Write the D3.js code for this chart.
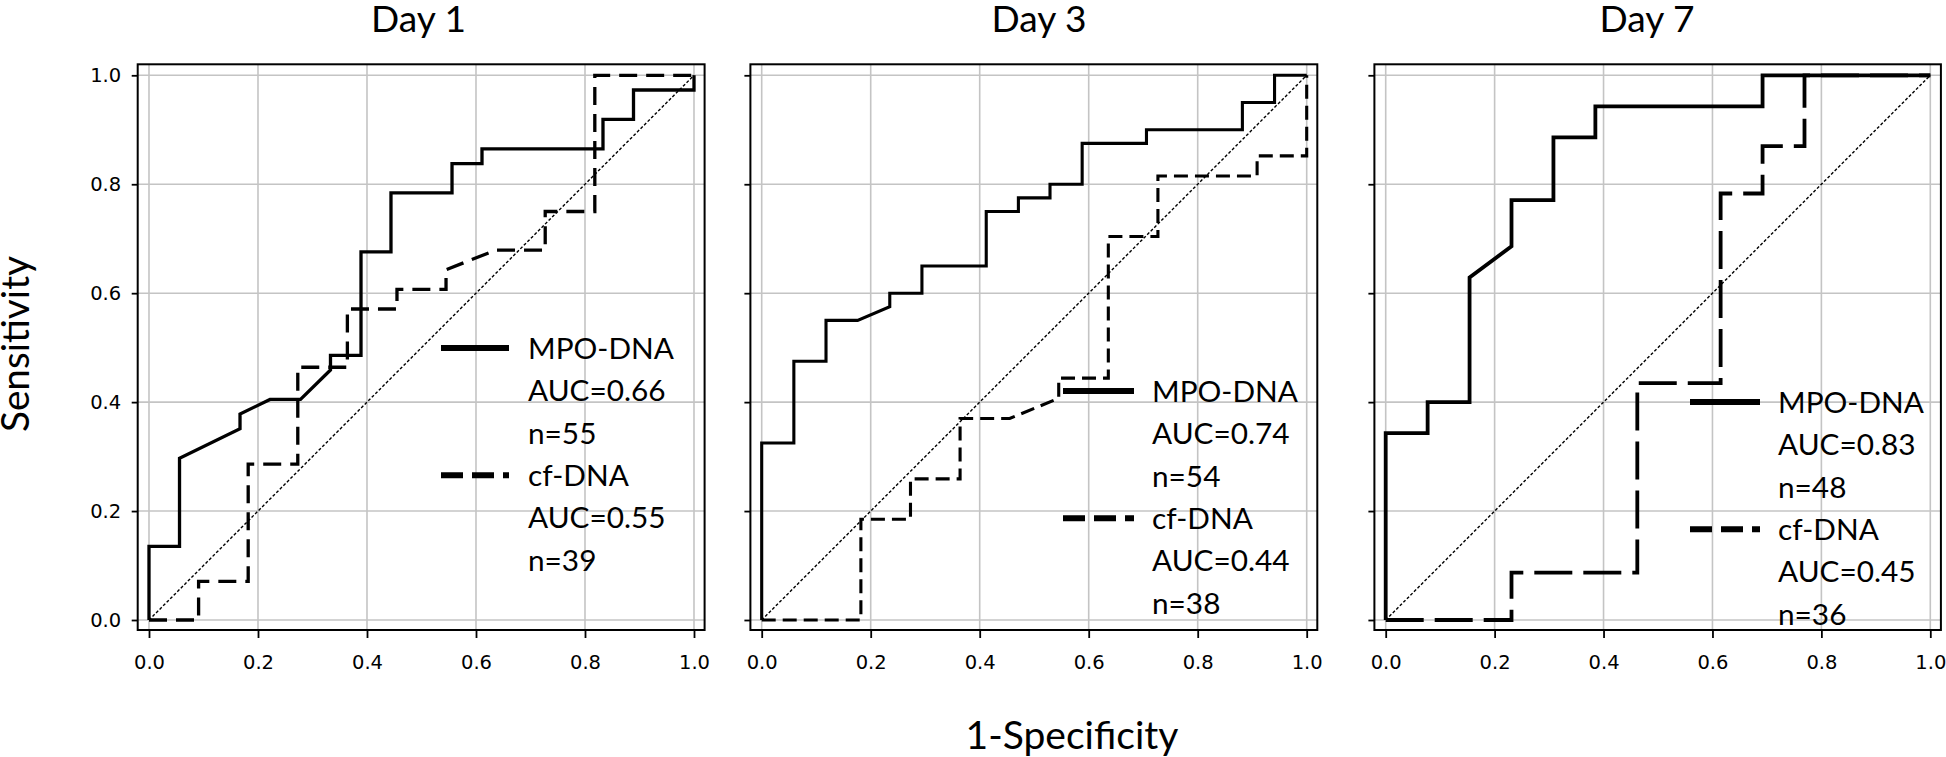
<!DOCTYPE html>
<html><head><meta charset="utf-8">
<script src="https://cdn.jsdelivr.net/npm/d3@7"></script>
<style>body{margin:0;background:#fff} svg{display:block}</style>
</head><body>
<svg id="chart" width="1946" height="757"></svg>
<script>
// ---------- data ----------
const days = ["Day 1", "Day 3", "Day 7"];
const tickValues = [0, 0.2, 0.4, 0.6, 0.8, 1.0];
const tickLabels = ["0.0", "0.2", "0.4", "0.6", "0.8", "1.0"];
const seriesNames = ["MPO-DNA", "cf-DNA"];
const mpoAUC = ["0.66", "0.74", "0.83"];
const cfAUC = ["0.55", "0.44", "0.45"];
const mpoN = [55, 54, 48];
const cfN = [39, 38, 36];
const xLabel = "1-Specificity";
const yLabel = "Sensitivity";

// ROC points [1-specificity, sensitivity]
const mpoDay1 = [[0,0],[0,0.135],[0.056,0.135],[0.056,0.297],[0.167,0.351],[0.167,0.378],[0.222,0.405],[0.278,0.405],[0.333,0.459],[0.333,0.486],[0.389,0.486],[0.389,0.676],[0.444,0.676],[0.444,0.784],[0.556,0.784],[0.556,0.838],[0.611,0.838],[0.611,0.865],[0.833,0.865],[0.833,0.919],[0.889,0.919],[0.889,0.973],[1,0.973],[1,1]];
const cfDay1 = [[0,0],[0.091,0],[0.091,0.071],[0.182,0.071],[0.182,0.286],[0.273,0.286],[0.273,0.464],[0.364,0.464],[0.364,0.571],[0.455,0.571],[0.455,0.607],[0.545,0.607],[0.545,0.643],[0.636,0.679],[0.727,0.679],[0.727,0.75],[0.818,0.75],[0.818,1],[1,1]];
const mpoDay3 = [[0,0],[0,0.325],[0.059,0.325],[0.059,0.475],[0.118,0.475],[0.118,0.55],[0.176,0.55],[0.235,0.575],[0.235,0.6],[0.294,0.6],[0.294,0.65],[0.412,0.65],[0.412,0.75],[0.471,0.75],[0.471,0.775],[0.529,0.775],[0.529,0.8],[0.588,0.8],[0.588,0.875],[0.706,0.875],[0.706,0.9],[0.882,0.9],[0.882,0.95],[0.941,0.95],[0.941,1],[1,1]];
const cfDay3 = [[0,0],[0.182,0],[0.182,0.185],[0.273,0.185],[0.273,0.259],[0.364,0.259],[0.364,0.37],[0.455,0.37],[0.545,0.407],[0.545,0.444],[0.636,0.444],[0.636,0.704],[0.727,0.704],[0.727,0.815],[0.909,0.815],[0.909,0.852],[1,0.852],[1,1]];
const mpoDay7 = [[0,0],[0,0.343],[0.077,0.343],[0.077,0.4],[0.154,0.4],[0.154,0.629],[0.231,0.686],[0.231,0.771],[0.308,0.771],[0.308,0.886],[0.385,0.886],[0.385,0.943],[0.692,0.943],[0.692,1],[1,1]];
const cfDay7 = [[0,0],[0.231,0],[0.231,0.087],[0.462,0.087],[0.462,0.435],[0.615,0.435],[0.615,0.783],[0.692,0.783],[0.692,0.87],[0.769,0.87],[0.769,1],[1,1]];
const chanceLine = [[0,0],[1,1]];

const mpoSeries = [mpoDay1, mpoDay3, mpoDay7];
const cfSeries = [cfDay1, cfDay3, cfDay7];

// ---------- layout ----------
const panels = [
  {x0:149,   x1:694,   titleX:418.5, legLine:[441,509],   legText:528,  legY:348, dash:"18,9",  lw:3.3},
  {x0:761.7, x1:1306.7,titleX:1039,  legLine:[1063,1134], legText:1152, legY:391, dash:"14,7",  lw:3.1},
  {x0:1385.7,x1:1930.3,titleX:1647,  legLine:[1690,1760], legText:1778, legY:402, dash:"38,11", lw:3.8}
];
const yTop = 75.3, yBot = 620;
const padL = 11.3, padR = 10.6, padT = 11, padB = 10;
const rowGap = 42.4;
const labelFont = "Lato, 'Open Sans', sans-serif";
const tickFont = "'DejaVu Sans', sans-serif";

const svg = d3.select("#chart");

// size a font so a sample string reaches a measured width
function fitSize(sample, target) {
  const t = svg.append("text").attr("font-family", labelFont).attr("font-size", 100).text(sample);
  const w = t.node().getComputedTextLength();
  t.remove();
  return 100 * target / w;
}
const titleSize = fitSize("Day 1", 95);
const legendSize = fitSize("MPO-DNA", 146);
const xLabSize = fitSize("1-Specificity", 213);
const yLabSize = fitSize("Sensitivity", 176);

const y = d3.scaleLinear().domain([0,1]).range([yBot, yTop]);

panels.forEach((p, i) => {
  const x = d3.scaleLinear().domain([0,1]).range([p.x0, p.x1]);
  const g = svg.append("g");
  const fx0 = x(0) - padL, fx1 = x(1) + padR, fy0 = y(1) - padT, fy1 = y(0) + padB;

  // grid
  g.append("g").selectAll("line").data(tickValues).join("line")
    .attr("x1", d => x(d)).attr("x2", d => x(d)).attr("y1", fy0).attr("y2", fy1)
    .attr("stroke", "#c4c4c4").attr("stroke-width", 1.6);
  g.append("g").selectAll("line").data(tickValues).join("line")
    .attr("y1", d => y(d)).attr("y2", d => y(d)).attr("x1", fx0).attr("x2", fx1)
    .attr("stroke", "#c4c4c4").attr("stroke-width", 1.6);

  // axes
  const xa = g.append("g").attr("transform", `translate(0,${fy1})`)
    .call(d3.axisBottom(x).tickValues(tickValues).tickFormat((d, k) => tickLabels[k])
      .tickSize(8).tickSizeOuter(0).tickPadding(17));
  xa.select(".domain").remove();
  xa.selectAll("line").attr("stroke", "#000").attr("stroke-width", 1.8);
  xa.selectAll("text").attr("font-family", tickFont).attr("font-size", 19.5).attr("fill", "#000");

  const ya = g.append("g").attr("transform", `translate(${fx0},0)`)
    .call(d3.axisLeft(y).tickValues(tickValues)
      .tickFormat((d, k) => i === 0 ? tickLabels[k] : "")
      .tickSize(6).tickSizeOuter(0).tickPadding(10.5));
  ya.select(".domain").remove();
  ya.selectAll("line").attr("stroke", "#000").attr("stroke-width", 1.8);
  ya.selectAll("text").attr("font-family", tickFont).attr("font-size", 19.5).attr("fill", "#000");

  // chance line
  const line = d3.line().x(d => x(d[0])).y(d => y(d[1]));
  g.append("path").datum(chanceLine).attr("d", line)
    .attr("fill", "none").attr("stroke", "#000").attr("stroke-width", 1.4)
    .attr("stroke-dasharray", "3,2");

  // curves
  g.append("path").datum(cfSeries[i]).attr("d", line)
    .attr("fill", "none").attr("stroke", "#000").attr("stroke-width", p.lw)
    .attr("stroke-dasharray", p.dash);
  g.append("path").datum(mpoSeries[i]).attr("d", line)
    .attr("fill", "none").attr("stroke", "#000").attr("stroke-width", p.lw);

  // frame
  g.append("rect").attr("x", fx0).attr("y", fy0).attr("width", fx1 - fx0).attr("height", fy1 - fy0)
    .attr("fill", "none").attr("stroke", "#000").attr("stroke-width", 2);

  // title
  svg.append("text").attr("x", p.titleX).attr("y", 32).attr("text-anchor", "middle")
    .attr("font-family", labelFont).attr("font-size", titleSize).text(days[i]);

  // legend
  const rows = [seriesNames[0], "AUC=" + mpoAUC[i], "n=" + mpoN[i],
                seriesNames[1], "AUC=" + cfAUC[i], "n=" + cfN[i]];
  const lg = svg.append("g");
  lg.selectAll("text").data(rows).join("text")
    .attr("x", p.legText).attr("y", (d, k) => p.legY + k * rowGap).attr("dy", "0.36em")
    .attr("font-family", labelFont).attr("font-size", legendSize).text(d => d);
  lg.append("line").attr("x1", p.legLine[0]).attr("x2", p.legLine[1])
    .attr("y1", p.legY).attr("y2", p.legY).attr("stroke", "#000").attr("stroke-width", 6);
  lg.append("line").attr("x1", p.legLine[0]).attr("x2", p.legLine[1])
    .attr("y1", p.legY + 3 * rowGap).attr("y2", p.legY + 3 * rowGap)
    .attr("stroke", "#000").attr("stroke-width", 6).attr("stroke-dasharray", "22,9");
});

// axis labels
svg.append("text").attr("x", 1072).attr("y", 749).attr("text-anchor", "middle")
  .attr("font-family", labelFont).attr("font-size", xLabSize).text(xLabel);
svg.append("text").attr("transform", "translate(29,344) rotate(-90)").attr("text-anchor", "middle")
  .attr("font-family", labelFont).attr("font-size", yLabSize).text(yLabel);
</script>
</body></html>
